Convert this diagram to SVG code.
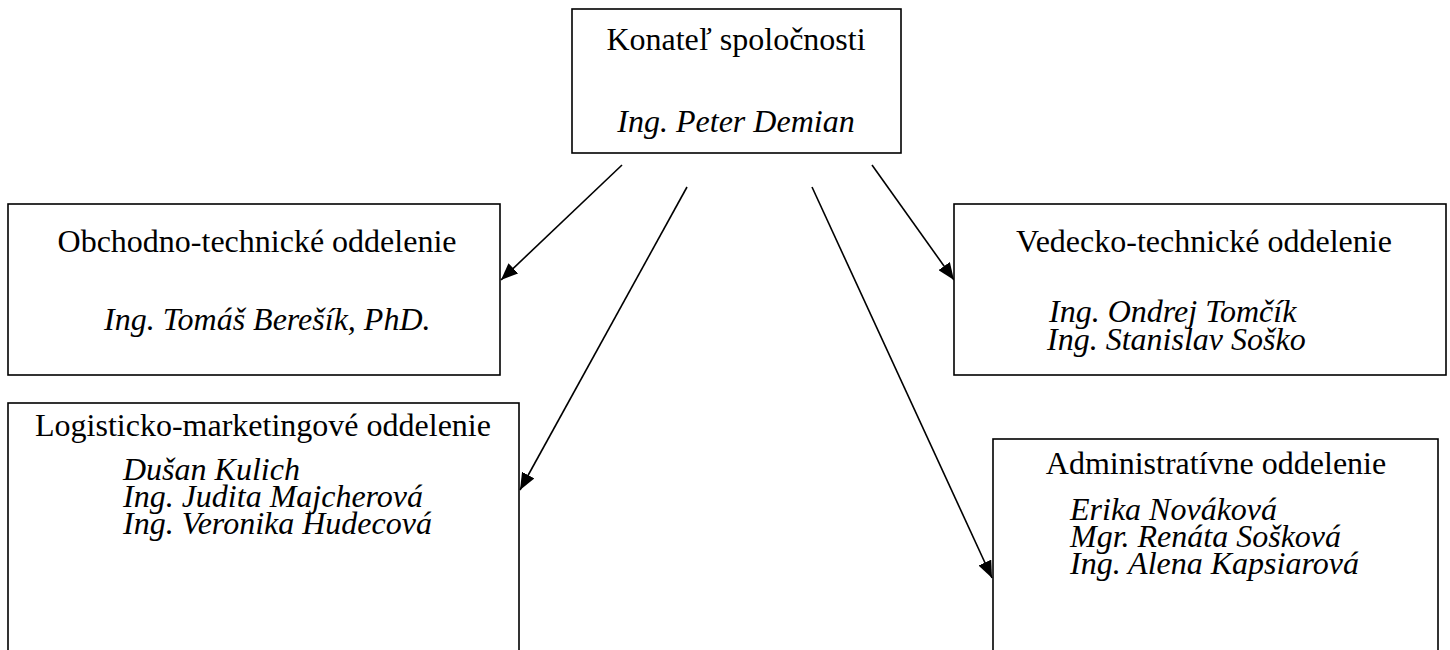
<svg xmlns="http://www.w3.org/2000/svg" width="1450" height="650" viewBox="0 0 1450 650">
  <style>
    .box { fill: #ffffff; stroke: #000000; stroke-width: 1.6; }
    .t { font-family: "Liberation Serif", "Times New Roman", serif; font-size: 32px; fill: #000000; }
    .c { text-anchor: middle; }
    .i { font-style: italic; }
    .conn { stroke: #000000; stroke-width: 1.6; fill: none; marker-end: url(#arrow); }
  </style>
  <defs>
    <marker id="arrow" markerUnits="userSpaceOnUse" markerWidth="18" markerHeight="14" refX="17" refY="7" orient="auto">
      <path d="M0,0 L17,7 L0,14 z" fill="#000000"/>
    </marker>
  </defs>
  <rect x="0" y="0" width="1450" height="650" fill="#ffffff"/>

  <g id="connectors">
    <line class="conn" x1="622" y1="165" x2="501" y2="280"/>
    <line class="conn" x1="687" y1="187" x2="520" y2="490"/>
    <line class="conn" x1="812" y1="187" x2="992" y2="578"/>
    <line class="conn" x1="872" y1="165" x2="954" y2="280"/>
  </g>

  <g id="node-konatel">
    <rect class="box" x="572" y="9" width="329" height="144"/>
    <text class="t c" x="736" y="50">Konateľ spoločnosti</text>
    <text class="t c i" x="736" y="132">Ing. Peter Demian</text>
  </g>

  <g id="node-obchodno">
    <rect class="box" x="8" y="204" width="492" height="171"/>
    <text class="t c" x="257" y="252">Obchodno-technické oddelenie</text>
    <text class="t i" x="104" y="330">Ing. Tomáš Berešík, PhD.</text>
  </g>

  <g id="node-vedecko">
    <rect class="box" x="954" y="204" width="492" height="171"/>
    <text class="t c" x="1204" y="252">Vedecko-technické oddelenie</text>
    <text class="t i" x="1049" y="322">Ing. Ondrej Tomčík</text>
    <text class="t i" x="1047" y="350">Ing. Stanislav Soško</text>
  </g>

  <g id="node-logisticko">
    <rect class="box" x="8" y="403" width="511" height="270"/>
    <text class="t c" x="263" y="436">Logisticko-marketingové oddelenie</text>
    <text class="t i" x="123" y="480">Dušan Kulich</text>
    <text class="t i" x="123" y="507">Ing. Judita Majcherová</text>
    <text class="t i" x="123" y="534">Ing. Veronika Hudecová</text>
  </g>

  <g id="node-admin">
    <rect class="box" x="993" y="439" width="445" height="230"/>
    <text class="t c" x="1216" y="474">Administratívne oddelenie</text>
    <text class="t i" x="1070" y="520">Erika Nováková</text>
    <text class="t i" x="1070" y="547">Mgr. Renáta Sošková</text>
    <text class="t i" x="1070" y="574">Ing. Alena Kapsiarová</text>
  </g>
</svg>
